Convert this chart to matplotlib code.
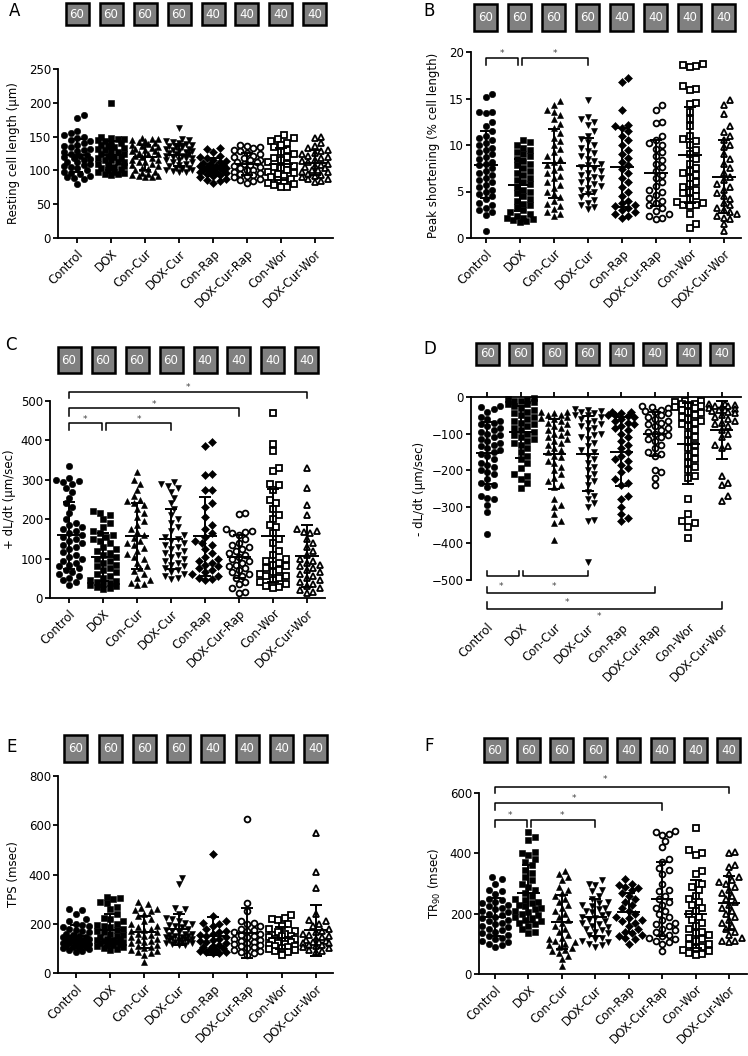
import numpy as np
import matplotlib
matplotlib.use('Agg')
import matplotlib.pyplot as plt
from matplotlib.patches import Rectangle

plt.rcParams['font.family'] = ['DejaVu Sans']
plt.rcParams['mathtext.default'] = 'regular'

groups = ['Control', 'DOX', 'Con-Cur', 'DOX-Cur', 'Con-Rap', 'DOX-Cur-Rap', 'Con-Wor', 'DOX-Cur-Wor']
n_cells = ['60', '60', '60', '60', '40', '40', '40', '40']
markers = ['o', 's', '^', 'v', 'D', 'o', 's', '^']
filled = [True, True, True, True, True, False, False, False]

# A - resting cell length (um)
A_ctrl = [182, 177, 158, 155, 152, 150, 148, 145, 143, 140, 138, 136, 135, 132, 130, 128, 127, 125, 123, 122,
          120, 118, 117, 115, 113, 112, 110, 108, 106, 105, 103, 100, 98, 96, 94, 92, 90, 89, 88, 80]
A_dox = [200, 149, 148, 147, 146, 145, 143, 141, 140, 138, 136, 135, 133, 131, 130, 128, 127, 125, 124, 122,
         120, 119, 118, 116, 115, 113, 112, 110, 108, 106, 105, 104, 102, 100, 98, 97, 96, 95, 94, 93]
A_concur = [148, 147, 146, 145, 143, 142, 140, 139, 137, 136, 135, 133, 132, 130, 129, 128, 126, 125, 124, 122,
            120, 118, 116, 115, 113, 112, 110, 108, 106, 104, 102, 100, 98, 96, 94, 93, 92, 91, 90, 90]
A_doxcur = [162, 147, 145, 144, 142, 140, 139, 138, 136, 135, 134, 132, 131, 130, 129, 128, 127, 126, 125, 124,
            122, 121, 120, 119, 118, 116, 115, 113, 112, 110, 108, 106, 104, 103, 102, 101, 100, 99, 98, 97]
A_conrap = [133, 131, 127, 122, 120, 118, 116, 114, 112, 111, 110, 108, 107, 106, 105, 104, 103, 102, 101, 100,
            99, 98, 97, 96, 95, 93, 92, 90, 88, 86, 84, 82]
A_doxcurrap = [138, 136, 135, 133, 130, 128, 126, 124, 122, 120, 118, 116, 115, 113, 112, 110, 108, 106, 105, 103,
               101, 100, 98, 96, 95, 93, 91, 90, 88, 86, 84, 82]
A_conwor = [152, 148, 146, 143, 140, 137, 134, 130, 127, 124, 120, 118, 115, 112, 110, 107, 105, 103, 100, 98,
            96, 94, 92, 90, 88, 86, 84, 82, 80, 78, 76, 75]
A_doxcurwor = [150, 148, 140, 136, 133, 130, 128, 126, 124, 122, 120, 118, 116, 114, 112, 110, 108, 106, 105, 103,
               101, 100, 98, 97, 95, 93, 92, 90, 88, 87, 85, 83]

# B - peak shortening (% cell length)
B_ctrl = [15.5, 15.2, 13.5, 13.4, 13.5, 12.5, 12.0, 11.5, 11.0, 10.8, 10.5, 10.2, 10.0, 9.7, 9.5, 9.2, 9.0, 8.7,
          8.5, 8.2, 8.0, 7.8, 7.5, 7.2, 7.0, 6.8, 6.5, 6.2, 6.0, 5.7, 5.5, 5.2, 5.0, 4.7, 4.5, 4.2, 3.8, 3.5,
          3.2, 3.0, 2.8, 2.5, 0.8]
B_dox = [10.5, 10.3, 10.0, 9.7, 9.5, 9.2, 9.0, 8.8, 8.5, 8.3, 8.0, 7.8, 7.5, 7.2, 7.0, 6.8, 6.5, 6.2, 6.0, 5.8,
         5.5, 5.2, 5.0, 4.8, 4.5, 4.2, 4.0, 3.7, 3.5, 3.3, 3.0, 2.8, 2.6, 2.4, 2.2, 2.1, 2.0, 1.9, 1.8, 1.7]
B_concur = [14.7, 14.3, 13.8, 13.5, 13.2, 12.8, 12.3, 11.8, 11.3, 10.8, 10.4, 10.0, 9.6, 9.2, 8.8, 8.5, 8.2, 7.9,
            7.6, 7.3, 7.0, 6.7, 6.4, 6.0, 5.7, 5.4, 5.0, 4.7, 4.4, 4.0, 3.7, 3.4, 3.1, 2.8, 2.6, 2.4]
B_doxcur = [14.8, 13.0, 12.8, 12.5, 12.2, 11.5, 11.0, 10.6, 10.3, 10.0, 9.7, 9.4, 9.1, 8.8, 8.5, 8.3, 8.0, 7.8,
            7.6, 7.4, 7.2, 7.0, 6.8, 6.6, 6.4, 6.2, 6.0, 5.8, 5.6, 5.4, 5.2, 5.0, 4.7, 4.4, 4.1, 3.8, 3.5, 3.3, 3.1]
B_conrap = [17.2, 16.8, 13.8, 12.2, 12.0, 11.8, 11.5, 11.0, 10.5, 10.0, 9.5, 9.0, 8.6, 8.2, 7.8, 7.4, 7.0, 6.5,
            6.0, 5.5, 5.0, 4.5, 4.0, 3.8, 3.6, 3.4, 3.2, 3.0, 2.8, 2.6, 2.4, 2.2]
B_doxcurrap = [14.3, 13.8, 12.5, 12.4, 11.0, 10.5, 10.2, 10.0, 9.6, 9.2, 8.8, 8.4, 8.0, 7.6, 7.2, 6.8, 6.4, 6.0,
               5.6, 5.2, 4.9, 4.6, 4.3, 4.0, 3.8, 3.5, 3.2, 2.9, 2.6, 2.4, 2.2, 2.0]
B_conwor = [18.7, 18.6, 18.5, 18.4, 16.3, 16.0, 15.9, 14.5, 14.4, 13.5, 12.8, 12.0, 11.0, 10.6, 10.4, 10.0, 9.5,
            9.0, 8.5, 8.0, 7.5, 7.2, 7.0, 6.8, 6.5, 6.0, 5.8, 5.5, 5.2, 5.0, 4.8, 4.5, 4.2, 3.9, 3.8, 3.6, 3.5,
            3.4, 2.6, 1.5, 1.1]
B_doxcurwor = [14.8, 14.3, 13.3, 12.0, 11.4, 11.0, 10.5, 10.0, 9.8, 9.0, 8.5, 8.0, 7.5, 7.0, 6.6, 6.2, 5.8, 5.5,
               5.2, 4.8, 4.5, 4.2, 3.8, 3.5, 3.2, 3.0, 2.8, 2.6, 2.4, 2.2, 2.0, 1.5, 0.7]

# C - +dL/dt (um/sec)
C_ctrl = [335, 305, 300, 298, 295, 290, 280, 270, 255, 240, 230, 215, 200, 190, 185, 180, 175, 170, 165, 160,
          155, 150, 145, 140, 135, 130, 125, 118, 110, 105, 100, 95, 90, 85, 80, 75, 70, 65, 60, 55, 50, 45, 40, 32]
C_dox = [220, 215, 210, 200, 190, 180, 170, 165, 160, 155, 150, 145, 140, 130, 125, 120, 115, 110, 105, 100,
         95, 90, 85, 80, 75, 70, 65, 60, 55, 50, 45, 42, 40, 38, 35, 32, 30, 28, 25, 22]
C_concur = [320, 300, 290, 275, 260, 250, 245, 240, 235, 225, 215, 205, 195, 185, 175, 168, 160, 152, 145, 140,
            135, 128, 120, 112, 105, 98, 90, 82, 75, 68, 60, 52, 45, 38, 35, 33]
C_doxcur = [295, 290, 285, 280, 270, 255, 240, 225, 210, 200, 190, 180, 170, 160, 155, 150, 145, 140, 135, 130,
            125, 120, 115, 110, 105, 100, 95, 90, 85, 80, 75, 70, 65, 60, 55, 50, 47]
C_conrap = [397, 385, 315, 313, 275, 273, 240, 230, 205, 185, 175, 165, 155, 145, 140, 135, 125, 115, 105, 100,
            95, 90, 85, 80, 75, 70, 65, 60, 55, 50, 47, 45]
C_doxcurrap = [215, 212, 175, 170, 168, 165, 160, 150, 140, 135, 130, 125, 120, 115, 110, 105, 100, 95, 90, 85,
               80, 75, 70, 65, 60, 55, 50, 40, 35, 25, 15, 12]
C_conwor = [470, 390, 373, 330, 322, 290, 288, 275, 250, 240, 225, 210, 200, 185, 180, 165, 150, 140, 120, 110,
            100, 95, 90, 85, 80, 75, 70, 65, 60, 55, 55, 50, 45, 40, 35, 30, 28, 25]
C_doxcurwor = [330, 278, 235, 210, 175, 170, 168, 165, 150, 140, 130, 120, 110, 100, 95, 90, 85, 80, 75, 70,
               65, 60, 55, 50, 45, 40, 35, 30, 25, 20, 15, 12]

# D - -dL/dt (um/sec)
D_ctrl = [-25, -28, -32, -40, -55, -60, -65, -70, -75, -80, -85, -90, -95, -100, -105, -110, -115, -120, -125,
          -130, -135, -140, -145, -150, -155, -160, -170, -180, -185, -190, -200, -205, -210, -225, -235, -240,
          -245, -270, -275, -280, -295, -315, -375]
D_dox = [-2, -5, -8, -10, -12, -15, -18, -20, -25, -30, -35, -40, -45, -50, -55, -60, -65, -70, -75, -80, -85,
         -90, -95, -100, -105, -110, -115, -120, -125, -130, -140, -150, -160, -170, -180, -195, -210, -215,
         -225, -235, -248]
D_concur = [-40, -42, -45, -48, -50, -55, -58, -60, -65, -70, -75, -80, -85, -90, -95, -100, -105, -110, -115,
            -120, -125, -130, -140, -145, -150, -160, -165, -175, -180, -190, -200, -210, -220, -230, -240, -245,
            -280, -295, -300, -320, -340, -345, -390]
D_doxcur = [-32, -35, -38, -40, -45, -48, -50, -55, -60, -65, -70, -75, -80, -85, -90, -100, -105, -110, -115,
            -125, -135, -145, -150, -160, -170, -180, -190, -200, -210, -220, -230, -240, -260, -270, -280, -290,
            -300, -335, -340, -450]
D_conrap = [-40, -42, -45, -48, -50, -52, -55, -60, -65, -70, -75, -80, -85, -90, -100, -110, -120, -130, -140,
            -150, -160, -170, -175, -185, -195, -205, -225, -235, -240, -270, -280, -300, -320, -330, -340]
D_doxcurrap = [-25, -28, -30, -35, -38, -42, -45, -50, -55, -60, -65, -70, -75, -80, -85, -90, -95, -100, -105,
               -110, -115, -120, -130, -140, -150, -155, -160, -200, -205, -220, -240]
D_conwor = [-10, -12, -15, -18, -20, -22, -25, -28, -30, -35, -40, -45, -50, -55, -60, -65, -70, -75, -80, -90,
            -100, -110, -120, -130, -140, -150, -160, -170, -180, -190, -200, -215, -220, -280, -320, -340, -345,
            -355, -385]
D_doxcurwor = [-18, -20, -22, -25, -25, -28, -30, -32, -35, -35, -38, -40, -45, -50, -55, -60, -65, -70, -75,
               -80, -90, -100, -110, -130, -135, -140, -215, -235, -240, -270, -285]

# E - TPS (msec)
E_ctrl = [260, 255, 240, 220, 210, 200, 195, 190, 185, 180, 175, 170, 165, 160, 155, 150, 148, 145, 142, 140,
          138, 135, 132, 130, 127, 125, 122, 120, 117, 115, 112, 110, 107, 105, 102, 100, 97, 95, 90, 85]
E_dox = [310, 305, 300, 290, 285, 270, 260, 240, 225, 220, 210, 200, 195, 190, 185, 180, 175, 170, 165, 160,
         155, 150, 145, 140, 137, 135, 132, 130, 127, 125, 122, 120, 117, 115, 112, 110, 105, 100, 97, 95]
E_concur = [290, 280, 265, 260, 255, 250, 240, 230, 220, 210, 200, 190, 185, 180, 175, 170, 165, 160, 155, 150,
            145, 140, 135, 130, 125, 120, 115, 110, 105, 100, 95, 90, 85, 80, 75, 45]
E_doxcur = [385, 360, 265, 260, 240, 225, 220, 210, 205, 200, 195, 190, 185, 180, 175, 170, 165, 160, 158, 155,
            152, 150, 147, 145, 142, 140, 137, 135, 132, 130, 127, 125, 122, 120, 117, 115, 112]
E_conrap = [485, 232, 210, 205, 200, 190, 180, 170, 165, 160, 155, 150, 145, 140, 135, 130, 125, 120, 115, 110,
            105, 100, 97, 95, 90, 87, 85, 82, 80]
E_doxcurrap = [625, 285, 250, 210, 205, 200, 190, 180, 175, 170, 165, 160, 155, 150, 145, 140, 135, 130, 125,
               120, 118, 115, 110, 105, 100, 95, 90, 85, 80, 75]
E_conwor = [235, 225, 220, 215, 200, 190, 180, 170, 165, 160, 155, 150, 150, 145, 140, 138, 135, 130, 128, 125,
            120, 118, 115, 110, 108, 105, 100, 98, 95, 90, 85, 72]
E_doxcurwor = [570, 410, 345, 240, 215, 210, 200, 190, 180, 170, 165, 160, 155, 150, 145, 140, 135, 130, 127,
               125, 122, 120, 115, 112, 110, 105, 100, 95, 90, 85]

# F - TR90 (msec)
F_ctrl = [320, 315, 300, 280, 275, 265, 250, 245, 240, 235, 230, 225, 220, 215, 210, 205, 200, 195, 190, 185,
          180, 175, 170, 165, 160, 155, 150, 145, 140, 135, 130, 125, 120, 115, 110, 105, 100, 95, 90]
F_dox = [470, 455, 445, 405, 400, 395, 380, 370, 360, 345, 335, 320, 310, 300, 290, 280, 270, 260, 250, 245,
         240, 235, 230, 225, 220, 215, 210, 205, 200, 195, 190, 185, 180, 175, 170, 165, 160, 150, 140, 135]
F_concur = [340, 330, 320, 310, 290, 280, 270, 260, 250, 240, 230, 220, 210, 200, 190, 180, 170, 160, 150, 140,
            130, 120, 115, 110, 105, 100, 95, 90, 85, 80, 75, 70, 60, 50, 25]
F_doxcur = [310, 300, 295, 280, 275, 260, 250, 240, 235, 230, 225, 220, 215, 210, 205, 200, 195, 190, 185, 180,
            175, 170, 165, 160, 155, 150, 145, 140, 135, 130, 120, 115, 110, 105, 100, 95, 90]
F_conrap = [315, 300, 295, 290, 285, 280, 270, 260, 250, 240, 230, 220, 210, 200, 190, 185, 180, 175, 170, 160,
            150, 140, 135, 130, 125, 120, 115, 100]
F_doxcurrap = [475, 470, 465, 460, 440, 420, 380, 370, 350, 345, 330, 300, 280, 275, 260, 250, 240, 230, 220,
               210, 200, 190, 180, 170, 165, 160, 150, 145, 140, 130, 125, 120, 115, 110, 105, 100, 75]
F_conwor = [485, 410, 400, 395, 340, 330, 300, 290, 280, 260, 250, 240, 230, 220, 210, 200, 190, 180, 170, 160,
            150, 140, 135, 130, 120, 115, 110, 100, 95, 90, 85, 80, 75, 70, 65, 62]
F_doxcurwor = [405, 400, 360, 355, 330, 320, 310, 305, 300, 290, 280, 270, 260, 250, 240, 230, 220, 210, 200,
               190, 180, 170, 160, 150, 140, 130, 120, 110, 108, 105]

W, H = 748, 1056
fig = plt.figure(figsize=(W / 100, H / 100), dpi=100)
fig.patch.set_facecolor('white')


def spread(vals, ppu, cpx, d=6.5, maxw=13.0):
    # beeswarm-like placement in pixels, then back to category units
    ypx = vals * ppu
    offs = np.zeros(len(vals))
    placed = []
    cands = [0.0]
    k = 1
    while k * d * 0.5 <= maxw:
        cands += [k * d * 0.5, -k * d * 0.5]
        k += 1
    for i in np.argsort(ypx):
        best, best_gap = 0.0, -1.0
        for c in cands:
            gap = min([np.hypot(c - px, ypx[i] - py) for px, py in placed] + [99.0])
            if gap >= d:
                best = c
                break
            if gap > best_gap:
                best, best_gap = c, gap
        placed.append((best, ypx[i]))
        offs[i] = best / cpx
    return offs


def panel(letter, rect, xlim, ylim, yticks, ylabel, ylab_x, data, box_y, letter_xy,
          brackets=(), stars=(), flipped=False):
    left, top, right, bottom = rect
    ax = fig.add_axes([left / W, 1 - bottom / H, (right - left) / W, (bottom - top) / H])
    ax.set_xlim(*xlim)
    ax.set_ylim(*ylim)
    cpx = (right - left) / (xlim[1] - xlim[0])
    ppu = (bottom - top) / (ylim[1] - ylim[0])

    for i, vals in enumerate(data):
        v = np.array(vals, dtype=float)
        x = i + spread(v, ppu, cpx)
        ms = {'o': 4.6, 's': 4.2, '^': 5.0, 'v': 5.0, 'D': 3.6}[markers[i]]
        if filled[i]:
            ax.plot(x, v, ls='none', marker=markers[i], ms=ms, mfc='black', mec='black', mew=0.4,
                    clip_on=False, zorder=2)
        else:
            ax.plot(x, v, ls='none', marker=markers[i], ms=ms - 0.4, mfc='white', mec='black', mew=1.3,
                    clip_on=False, zorder=2)
        m, sd = v.mean(), v.std(ddof=1)
        ax.hlines(m, i - 0.34, i + 0.34, color='black', lw=1.4, zorder=3)
        ax.vlines(i, m - sd, m + sd, color='black', lw=1.4, zorder=3)
        ax.hlines([m - sd, m + sd], i - 0.18, i + 0.18, color='black', lw=1.4, zorder=3)

    ax.set_yticks(yticks)
    ax.set_xticks(range(len(groups)))
    ax.set_xticklabels(groups, rotation=45, ha='right', va='top', rotation_mode='anchor', fontsize=8.5)
    ax.tick_params(axis='y', length=3.6, width=1.3, pad=1.5, labelsize=8.5)
    for s in ax.spines.values():
        s.set_linewidth(1.3)
    ax.spines['right'].set_visible(False)
    if flipped:
        ax.spines['bottom'].set_visible(False)
        ax.tick_params(axis='x', bottom=False, top=True, labelbottom=True, labeltop=False,
                       length=3.6, width=1.3, pad=26)
    else:
        ax.spines['top'].set_visible(False)
        ax.tick_params(axis='x', length=3.6, width=1.3, pad=3)

    ax.set_ylabel(ylabel, fontsize=8.5, va='center')
    ax.yaxis.set_label_coords((ylab_x - left) / (right - left), 0.5)

    # n boxes above each column
    tr = ax.get_xaxis_transform()
    yb = (bottom - box_y[1]) / (bottom - top)
    yt = (bottom - box_y[0]) / (bottom - top)
    bw = 23.0 / cpx
    for i, n in enumerate(n_cells):
        ax.add_patch(Rectangle((i - bw / 2, yb), bw, yt - yb, transform=tr, clip_on=False,
                               facecolor='#808080', edgecolor='black', lw=1.8))
        ax.text(i, (yb + yt) / 2, n, transform=tr, ha='center', va='center', color='white', fontsize=8.5)

    for x0, x1, yl, ytip in brackets:
        ax.plot([x0, x0, x1, x1], [ytip, yl, yl, ytip], color='black', lw=1.1, clip_on=False)
    for sx, sy in stars:
        ax.text(sx, sy, '*', ha='center', va='center', fontsize=6.5, color='#444444')

    fig.text(letter_xy[0] / W, 1 - letter_xy[1] / H, letter, ha='center', va='center', fontsize=12)
    return ax


panel('A', (58, 69, 333, 238), (-0.56, 7.53), (0, 250), range(0, 251, 50),
      'Resting cell length (\u03bcm)', 14,
      [A_ctrl, A_dox, A_concur, A_doxcur, A_conrap, A_doxcurrap, A_conwor, A_doxcurwor],
      (3, 25), (15, 11))

panel('B', (471, 52, 741, 238), (-0.44, 7.5), (0, 20), range(0, 21, 5),
      'Peak shortening (% cell length)', 434,
      [B_ctrl, B_dox, B_concur, B_doxcur, B_conrap, B_doxcurrap, B_conwor, B_doxcurwor],
      (4, 31), (429, 11),
      brackets=[(0, 0.94, 19.35, 18.6), (1.06, 3, 19.35, 18.6)],
      stars=[(0.47, 19.85), (2.03, 19.85)])

panel('C', (50, 401, 325, 598), (-0.56, 7.53), (0, 500), range(0, 501, 100),
      '+ dL/dt (\u03bcm/sec)', 10,
      [C_ctrl, C_dox, C_concur, C_doxcur, C_conrap, C_doxcurrap, C_conwor, C_doxcurwor],
      (347, 373), (11, 345),
      brackets=[(0, 7, 523, 508), (0, 5, 482, 462), (0, 0.97, 444, 426), (1.1, 3, 444, 426)],
      stars=[(3.5, 535), (2.5, 490), (0.48, 453), (2.05, 453)])

panel('D', (471, 397, 741, 580), (-0.48, 7.57), (-500, 0), range(-500, 1, 100),
      '- dL/dt (\u03bcm/sec)', 420,
      [D_ctrl, D_dox, D_concur, D_doxcur, D_conrap, D_doxcurrap, D_conwor, D_doxcurwor],
      (343, 365), (430, 349),
      brackets=[(0, 0.94, -489, -475), (1.06, 3, -489, -475), (0, 5, -536, -519), (0, 7, -579, -560)],
      stars=[(0.42, -518), (2.0, -518), (2.38, -561), (3.35, -600)],
      flipped=True)

panel('E', (58, 776, 333, 973), (-0.52, 7.5), (0, 800), range(0, 801, 200),
      'TPS (msec)', 13,
      [E_ctrl, E_dox, E_concur, E_doxcur, E_conrap, E_doxcurrap, E_conwor, E_doxcurwor],
      (735, 762), (12, 747))

panel('F', (479, 793, 747, 974), (-0.48, 7.54), (0, 600), range(0, 601, 200),
      'TR$_{90}$ (msec)', 435,
      [F_ctrl, F_dox, F_concur, F_doxcur, F_conrap, F_doxcurrap, F_conwor, F_doxcurwor],
      (738, 762), (429, 746),
      brackets=[(0, 7, 620, 600), (0, 5, 567, 543), (0, 0.96, 510, 487), (1.08, 3, 510, 487)],
      stars=[(3.3, 645), (2.37, 582), (0.45, 525), (2.0, 525)])

fig.savefig('out.png', dpi=100)
